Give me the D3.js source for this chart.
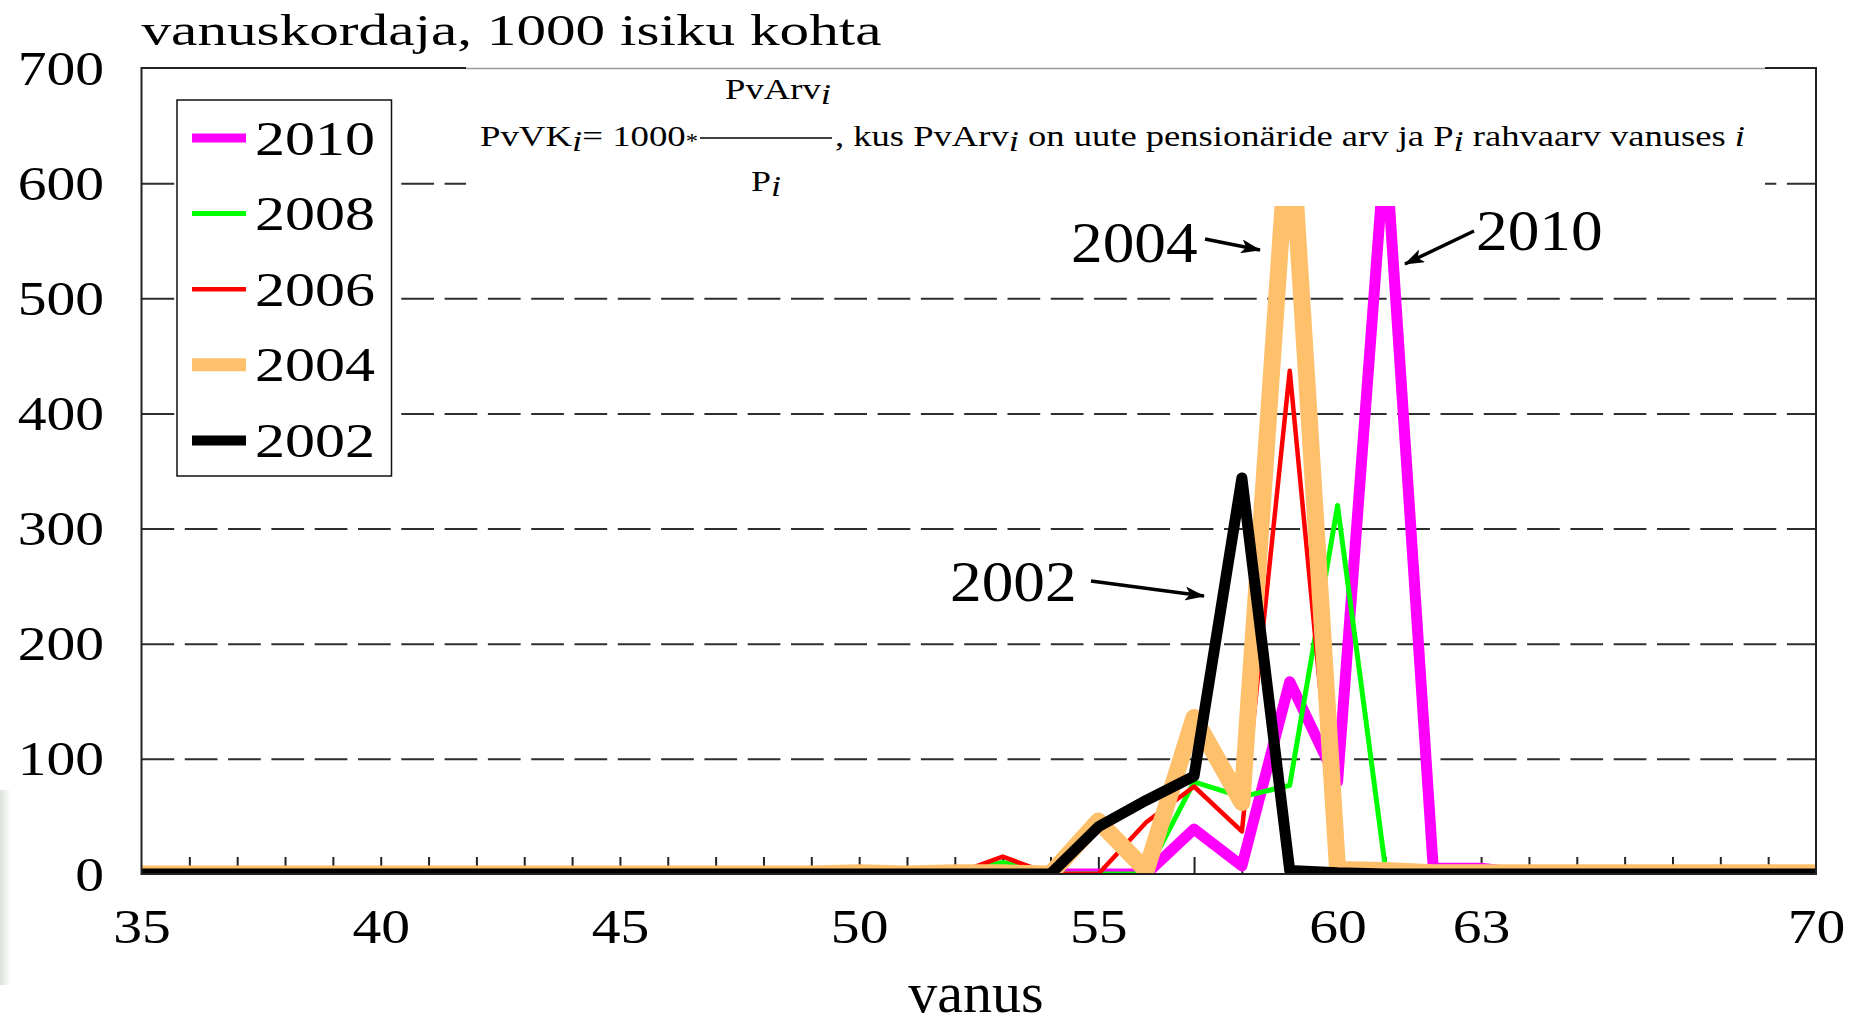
<!DOCTYPE html>
<html>
<head>
<meta charset="utf-8">
<script src="https://cdn.jsdelivr.net/npm/d3@7"></script>
<style>
  body { margin: 0; background: #fff; }
  svg { display: block; font-family: 'Liberation Serif', 'Times New Roman', serif; }
</style>
</head>
<body>
<svg id="chart" width="1849" height="1029"></svg>
<script>
// ages on the x axis (vanus)
var ages = [35, 36, 37, 38, 39, 40, 41, 42, 43, 44, 45, 46, 47, 48, 49, 50, 51, 52,
  53, 54, 55, 56, 57, 58, 59, 60, 61, 62, 63, 64, 65, 66, 67, 68, 69, 70]

// new pensioners per 1000 persons of the same age
var y2010 = [0, 0, 0, 0, 0, 0, 0, 0, 0, 0, 0, 0, 0, 0, 0, 0, 0, 0,
  7, 0, 0, 0, 39, 7, 167, 80, 635, 5, 5, 0, 0, 0, 0, 0, 0, 0]
var y2008 = [0, 0, 0, 0, 0, 0, 0, 0, 0, 0, 0, 0, 0, 0, 0, 0, 0, 0,
  10, 0, 0, 0, 80, 67, 77, 320, 5, 0, 0, 0, 0, 0, 0, 0, 0, 0]
var y2006 = [0, 0, 0, 0, 0, 0, 0, 0, 0, 0, 0, 0, 0, 0, 0, 0, 0, 0,
  15, 0, 0, 45, 76, 37, 437, 3, 0, 0, 0, 0, 0, 0, 0, 0, 0, 0]
var y2004 = [0, 0, 0, 0, 0, 0, 0, 0, 0, 0, 0, 0, 0, 0, 0, 1, 0, 1,
  1, 0, 46, 3, 136, 62, 665, 4, 3, 1, 1, 1, 1, 1, 1, 1, 1, 1]
var y2002 = [0, 0, 0, 0, 0, 0, 0, 0, 0, 0, 0, 0, 0, 0, 0, 0, 0, 0,
  0, 0, 41, 64, 85, 344, 3, 1, 0, 0, 0, 0, 0, 0, 0, 0, 0, 0]

// axis labels
var xLabels = [35, 40, 45, 50, 55, 60, 63, 70]
var yLabels = [0, 100, 200, 300, 400, 500, 600, 700]
var gridValues = [100, 200, 300, 400, 500, 600]
var years = ['2010', '2008', '2006', '2004', '2002']

// drawing order = legend order, last one on top
var series = [
  { year: years[0], values: y2010, color: '#ff00ff', width: 11, legendWidth: 9 },
  { year: years[1], values: y2008, color: '#00ff00', width: 5, legendWidth: 5 },
  { year: years[2], values: y2006, color: '#ff0000', width: 4.5, legendWidth: 4.5 },
  { year: years[3], values: y2004, color: '#ffc06b', width: 17, legendWidth: 13 },
  { year: years[4], values: y2002, color: '#000000', width: 11, legendWidth: 10 }
]

// dimensions
const plotLeft = 141.5
const plotRight = 1816
const plotTop = 68
const plotBottom = 874
const sx = 1.2 // the source picture has horizontally stretched lettering

const svg = d3.select('#chart')

const x = d3.scaleLinear().domain([35, 70]).range([plotLeft, plotRight])
const y = d3.scaleLinear().domain([0, 700]).range([plotBottom, plotTop])

// faint shadow at the left edge of the slide
const defs = svg.append('defs')
const grad = defs.append('linearGradient').attr('id', 'edge')
grad.append('stop').attr('offset', '0%').attr('stop-color', '#dde2dd')
grad.append('stop').attr('offset', '100%').attr('stop-color', '#ffffff')
svg.append('rect')
  .attr('x', 0).attr('y', 790).attr('width', 11).attr('height', 195)
  .attr('fill', 'url(#edge)')

defs.append('clipPath').attr('id', 'plot')
  .append('rect')
  .attr('x', plotLeft).attr('y', plotTop)
  .attr('width', plotRight - plotLeft).attr('height', plotBottom - plotTop)

defs.append('marker')
  .attr('id', 'arrow')
  .attr('markerUnits', 'userSpaceOnUse')
  .attr('viewBox', '0 0 20 14')
  .attr('markerWidth', 20)
  .attr('markerHeight', 14)
  .attr('refX', 19)
  .attr('refY', 7)
  .attr('orient', 'auto')
  .append('path')
  .attr('d', 'M0,0 L20,7 L0,14 L5,7 Z')
  .attr('fill', '#000')

// horizontal dashed grid lines
svg.append('g')
  .attr('transform', `translate(${plotLeft},0)`)
  .call(d3.axisLeft(y).tickValues(gridValues).tickSize(-(plotRight - plotLeft)).tickFormat(''))
  .call(g => g.select('.domain').remove())
  .selectAll('line')
  .attr('stroke', '#2e2e2e')
  .attr('stroke-width', 2)
  .attr('stroke-dasharray', '32.7,10.6')

// small ticks pointing up from the x axis, one per year of age
svg.append('g')
  .attr('transform', `translate(0,${plotBottom})`)
  .call(d3.axisTop(x).tickValues(ages.slice(1, -1)).tickSize(17).tickFormat(''))
  .call(g => g.select('.domain').remove())
  .selectAll('line')
  .attr('stroke', '#222')
  .attr('stroke-width', 2)

// the data lines
const line = d3.line()
  .x((d, i) => x(ages[i]))
  .y(d => y(d))

svg.append('g')
  .attr('clip-path', 'url(#plot)')
  .selectAll('path')
  .data(series)
  .enter()
  .append('path')
  .attr('d', s => line(s.values))
  .attr('fill', 'none')
  .attr('stroke', s => s.color)
  .attr('stroke-width', s => s.width)
  .attr('stroke-linejoin', 'round')

// plot frame
svg.append('rect')
  .attr('x', plotLeft).attr('y', plotTop)
  .attr('width', plotRight - plotLeft).attr('height', plotBottom - plotTop)
  .attr('fill', 'none')
  .attr('stroke', '#222')
  .attr('stroke-width', 2)

// y axis labels
svg.append('g')
  .attr('transform', `translate(${plotLeft},0)`)
  .call(d3.axisLeft(y).tickValues(yLabels).tickSize(0).tickPadding(0))
  .call(g => g.select('.domain').remove())
  .attr('font-family', null)
  .attr('font-size', 48)
  .selectAll('text')
  .attr('fill', '#000')
  .attr('x', -37.5 / sx)
  .attr('dy', 0)
  .attr('y', 16)
  .attr('transform', `scale(${sx},1)`)

// x axis labels
svg.append('g')
  .attr('transform', `translate(0,${plotBottom})`)
  .call(d3.axisBottom(x).tickValues(xLabels).tickSize(0).tickPadding(0))
  .call(g => g.select('.domain').remove())
  .attr('font-family', null)
  .attr('font-size', 48)
  .selectAll('text')
  .attr('fill', '#000')
  .attr('dy', 0)
  .attr('y', 69)
  .attr('transform', `scale(${sx},1)`)

// axis titles
svg.append('text')
  .attr('x', plotLeft)
  .attr('y', 45)
  .attr('font-size', 45)
  .attr('textLength', 740)
  .attr('lengthAdjust', 'spacingAndGlyphs')
  .text('vanuskordaja, 1000 isiku kohta')

svg.append('text')
  .attr('transform', 'translate(976,1012)')
  .attr('text-anchor', 'middle')
  .attr('font-size', 58)
  .text('vanus')

// formula box covering the top of the plot
svg.append('rect')
  .attr('x', 466).attr('y', 67)
  .attr('width', 1765 - 466).attr('height', 206 - 67)
  .attr('fill', '#fff')
svg.append('line')
  .attr('x1', 466).attr('x2', 1765)
  .attr('y1', 68.5).attr('y2', 68.5)
  .attr('stroke', '#9a9a9a')
  .attr('stroke-width', 1.5)

const formula = svg.append('g').attr('font-size', 30)

const num = formula.append('text')
  .attr('x', 778).attr('y', 99)
  .attr('text-anchor', 'middle')
  .attr('textLength', 106)
  .attr('lengthAdjust', 'spacingAndGlyphs')
num.append('tspan').text('PvArv')
num.append('tspan').attr('font-style', 'italic').attr('dy', 5).text('i')

const den = formula.append('text')
  .attr('x', 766).attr('y', 191)
  .attr('text-anchor', 'middle')
  .attr('textLength', 30)
  .attr('lengthAdjust', 'spacingAndGlyphs')
den.append('tspan').text('P')
den.append('tspan').attr('font-style', 'italic').attr('dy', 5).text('i')

const lhs = formula.append('text')
  .attr('x', 480).attr('y', 146)
  .attr('textLength', 218)
  .attr('lengthAdjust', 'spacingAndGlyphs')
lhs.append('tspan').text('PvVK')
lhs.append('tspan').attr('font-style', 'italic').attr('dy', 5).text('i')
lhs.append('tspan').attr('dy', -5).text('= 1000')
lhs.append('tspan').attr('font-size', 20).attr('dy', 2).text('*')

formula.append('line')
  .attr('x1', 700).attr('x2', 832)
  .attr('y1', 138).attr('y2', 138)
  .attr('stroke', '#000')
  .attr('stroke-width', 1.3)

const rhs = formula.append('text')
  .attr('x', 835).attr('y', 146)
  .attr('textLength', 910)
  .attr('lengthAdjust', 'spacingAndGlyphs')
rhs.append('tspan').text(', kus PvArv')
rhs.append('tspan').attr('font-style', 'italic').attr('dy', 5).text('i')
rhs.append('tspan').attr('dy', -5).text(' on uute pensionäride arv ja P')
rhs.append('tspan').attr('font-style', 'italic').attr('dy', 5).text('i')
rhs.append('tspan').attr('dy', -5).text(' rahvaarv vanuses ')
rhs.append('tspan').attr('font-style', 'italic').text('i')

// legend
const legend = svg.append('g')
legend.append('rect')
  .attr('x', 177).attr('y', 100)
  .attr('width', 214.5).attr('height', 376)
  .attr('fill', '#fff')
  .attr('stroke', '#111')
  .attr('stroke-width', 1.5)

const rows = legend.selectAll('.row')
  .data(series)
  .enter()
  .append('g')
  .attr('class', 'row')
  .attr('transform', (s, i) => `translate(0,${138 + i * 75.6})`)

rows.append('line')
  .attr('x1', 192).attr('x2', 246)
  .attr('stroke', s => s.color)
  .attr('stroke-width', s => s.legendWidth)

rows.append('text')
  .attr('transform', `translate(255,16.5) scale(1.25,1)`)
  .attr('font-size', 48)
  .text(s => s.year)

// annotations with arrows
const notes = [
  { label: years[3], tx: 1071, ty: 262, from: [1205, 239], to: [1260, 250] },
  { label: years[0], tx: 1476, ty: 250, from: [1474, 231], to: [1405, 264] },
  { label: years[4], tx: 950, ty: 601, from: [1091, 581], to: [1204, 596] }
]

notes.forEach(function(n) {
  svg.append('text')
    .attr('transform', `translate(${n.tx},${n.ty}) scale(1.13,1)`)
    .attr('font-size', 56)
    .text(n.label)
  svg.append('line')
    .attr('x1', n.from[0]).attr('y1', n.from[1])
    .attr('x2', n.to[0]).attr('y2', n.to[1])
    .attr('stroke', '#000')
    .attr('stroke-width', 3.5)
    .attr('marker-end', 'url(#arrow)')
})
</script>
</body>
</html>
